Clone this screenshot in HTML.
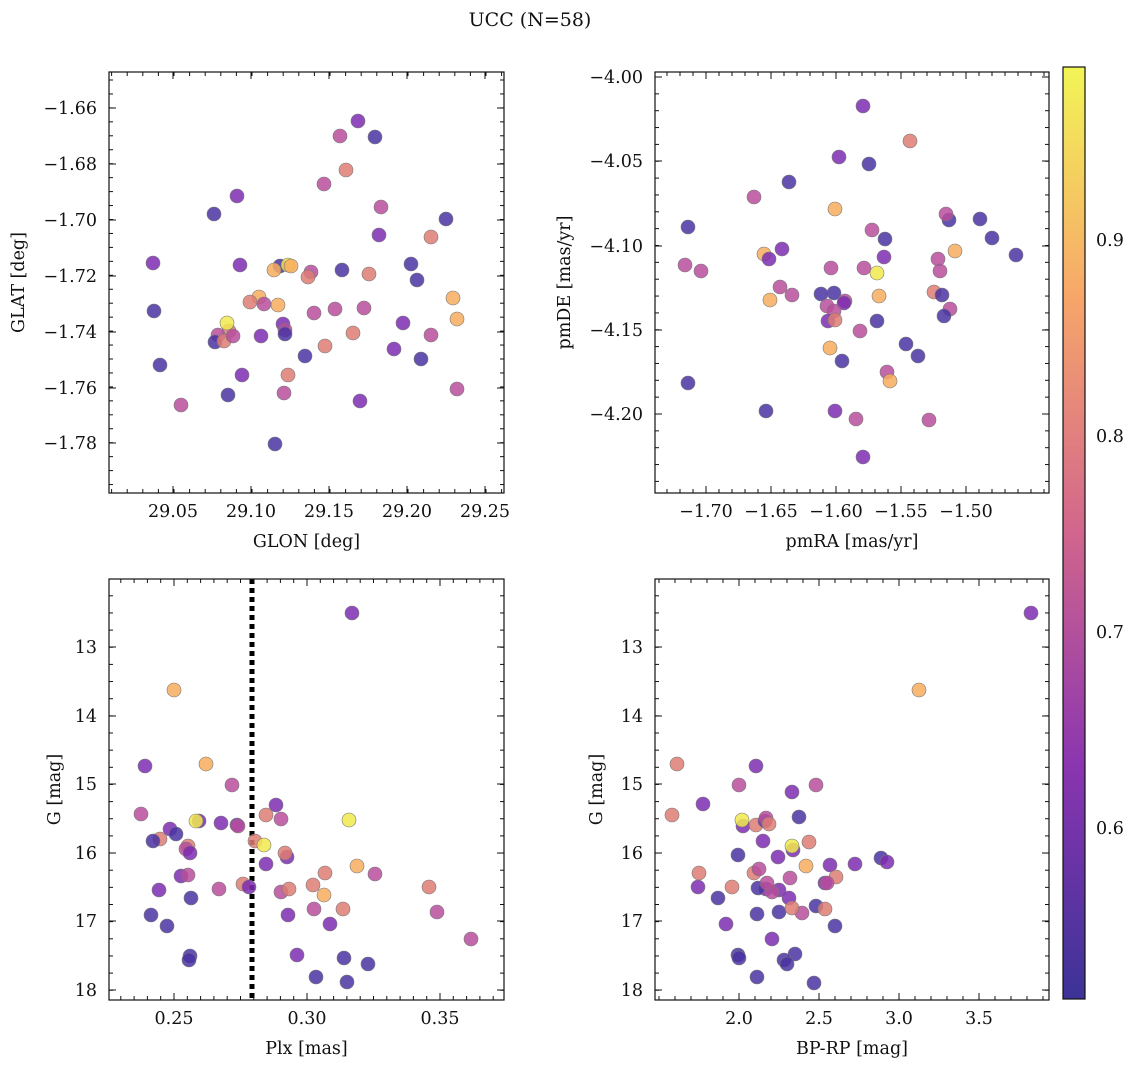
<!DOCTYPE html>
<html><head><meta charset="utf-8"><style>
body{margin:0;background:#fff;}
svg text{font-family:"DejaVu Serif","Liberation Serif",serif;font-size:17.5px;fill:#111;}
</style></head><body>
<svg id="s" width="1136" height="1067" xmlns="http://www.w3.org/2000/svg">
<defs><linearGradient id="cb" x1="0" y1="1" x2="0" y2="0">
<stop offset="0" stop-color="#3c3397"/><stop offset="0.25" stop-color="#8a35b0"/>
<stop offset="0.5" stop-color="#d1658d"/><stop offset="0.75" stop-color="#f7a56a"/>
<stop offset="1" stop-color="#f2f556"/></linearGradient></defs>
<text x="530" y="26" text-anchor="middle" style="font-size:19px">UCC (N=58)</text>
<line x1="252" y1="579" x2="252" y2="1000" stroke="#000" stroke-width="5" stroke-dasharray="5,4"/>
<g id="pts"></g><g id="ax"></g>
<rect x="1063" y="67" width="22" height="932" fill="url(#cb)" stroke="#111" stroke-width="1.2"/>
</svg>
<script>
const C={b:"#4a33a2",p:"#7c2cb0",m:"#b74d9c",s:"#de7d74",o:"#f8ad5e",y:"#f1e94e"};
const P={
tl:[[358,121,'p'],[340,136,'m'],[375,137,'b'],[346,170,'s'],[324,184,'m'],[237,196,'p'],[214,214,'b'],[381,207,'m'],[446,219,'b'],[379,235,'p'],[431,237,'s'],[153,263,'p'],[240,265,'p'],[280,266,'b'],[288,265,'y'],[291,266,'o'],[274,270,'o'],[311,272,'m'],[342,270,'b'],[369,274,'s'],[411,264,'b'],[417,280,'b'],[453,298,'o'],[278,305,'o'],[259,297,'o'],[250,302,'s'],[264,304,'m'],[335,309,'m'],[364,308,'m'],[308,277,'s'],[154,311,'b'],[229,331,'s'],[218,335,'m'],[215,342,'b'],[224,341,'s'],[233,336,'m'],[227,323,'y'],[261,336,'p'],[283,324,'p'],[285,330,'m'],[285,334,'b'],[314,313,'m'],[403,323,'p'],[457,319,'o'],[431,335,'m'],[353,333,'s'],[325,346,'s'],[305,356,'b'],[160,365,'b'],[394,349,'p'],[421,359,'b'],[242,375,'p'],[288,375,'s'],[360,401,'p'],[457,389,'m'],[284,393,'m'],[181,405,'m'],[228,395,'b'],[275,444,'b']],
tr:[[863,106,'p'],[910,141,'s'],[839,157,'p'],[869,164,'b'],[789,182,'b'],[754,197,'m'],[835,209,'o'],[949,220,'b'],[946,214,'m'],[688,227,'b'],[980,219,'b'],[872,230,'m'],[992,238,'b'],[885,239,'b'],[764,254,'o'],[955,251,'o'],[782,249,'p'],[769,259,'p'],[1016,255,'b'],[685,265,'m'],[701,271,'m'],[864,268,'m'],[884,257,'p'],[877,273,'y'],[938,259,'m'],[940,271,'m'],[831,268,'m'],[780,287,'m'],[792,295,'m'],[770,300,'o'],[834,293,'b'],[821,294,'b'],[879,296,'o'],[934,292,'s'],[942,295,'b'],[845,301,'m'],[827,306,'m'],[844,303,'p'],[950,309,'m'],[834,311,'m'],[828,321,'p'],[944,316,'b'],[877,321,'b'],[835,320,'s'],[860,331,'m'],[906,344,'b'],[918,356,'b'],[830,348,'o'],[842,361,'b'],[887,372,'m'],[890,381,'o'],[688,383,'b'],[766,411,'b'],[835,411,'p'],[856,419,'m'],[929,420,'m'],[863,457,'p']],
bl:[[352,613,'p'],[174,690,'o'],[206,764,'o'],[145,766,'p'],[232,785,'m'],[141,814,'m'],[199,821,'p'],[160,839,'s'],[188,846,'s'],[276,805,'p'],[170,829,'p'],[176,834,'b'],[153,841,'b'],[266,815,'s'],[281,819,'m'],[221,823,'p'],[237,825,'p'],[238,826,'m'],[255,841,'s'],[186,849,'m'],[190,853,'p'],[287,857,'p'],[285,853,'s'],[266,864,'p'],[357,866,'o'],[325,873,'s'],[313,885,'s'],[181,876,'p'],[188,875,'m'],[375,874,'m'],[159,890,'p'],[243,884,'s'],[219,889,'m'],[249,887,'p'],[281,892,'m'],[289,889,'s'],[324,895,'o'],[191,898,'b'],[429,887,'s'],[151,915,'b'],[167,926,'b'],[288,915,'p'],[314,909,'m'],[343,909,'s'],[330,924,'p'],[437,912,'m'],[471,939,'m'],[297,955,'p'],[190,956,'b'],[189,960,'b'],[344,958,'b'],[368,964,'b'],[316,977,'b'],[347,982,'b'],[349,820,'y'],[264,845,'y'],[196,821,'y']],
br:[[1031,613,'p'],[919,690,'o'],[677,764,'s'],[672,815,'s'],[703,804,'p'],[756,766,'p'],[739,785,'m'],[816,785,'m'],[792,792,'p'],[799,817,'b'],[743,826,'p'],[756,825,'s'],[765,821,'p'],[766,818,'m'],[769,824,'s'],[763,841,'p'],[738,855,'b'],[809,842,'s'],[793,850,'p'],[778,857,'p'],[806,866,'o'],[830,865,'p'],[855,864,'p'],[881,858,'b'],[887,862,'p'],[699,873,'s'],[754,873,'s'],[759,869,'m'],[790,878,'m'],[836,877,'s'],[698,887,'p'],[732,887,'s'],[766,889,'p'],[779,890,'p'],[758,888,'b'],[772,892,'m'],[767,883,'m'],[825,883,'p'],[789,898,'p'],[802,913,'m'],[718,898,'b'],[757,914,'b'],[779,912,'b'],[792,908,'s'],[816,906,'b'],[825,909,'s'],[827,883,'m'],[835,926,'b'],[726,924,'p'],[772,939,'p'],[738,955,'b'],[739,958,'b'],[795,954,'b'],[784,960,'b'],[787,964,'b'],[757,977,'b'],[814,983,'b'],[742,820,'y'],[792,846,'y']]};
const NS="http://www.w3.org/2000/svg";
function el(p,t,a,txt){const e=document.createElementNS(NS,t);for(const k in a)e.setAttribute(k,a[k]);if(txt!==undefined)e.textContent=txt;p.appendChild(e);return e;}
const g=document.getElementById('pts');
for(const k in P)for(const [x,y,c] of P[k])el(g,'circle',{cx:x,cy:y,r:7,fill:C[c],'fill-opacity':0.85,stroke:'#777','stroke-width':0.6});
const ax=document.getElementById('ax');
function axis(L,T,R,B,xt,yt,xmin,ymin,xl,yl,ylx){
 el(ax,'rect',{x:L,y:T,width:R-L,height:B-T,fill:'none',stroke:'#111','stroke-width':1.2});
 const t=(x1,y1,x2,y2)=>el(ax,'line',{x1,y1,x2,y2,stroke:'#111','stroke-width':1});
 for(const [p,l] of xt){t(p,B,p,B-7);t(p,T,p,T+7);el(ax,'text',{x:p,y:B+24,'text-anchor':'middle'},l);}
 for(const [p,l] of yt){t(L,p,L+7,p);t(R,p,R-7,p);el(ax,'text',{x:L-12,y:p+6,'text-anchor':'end'},l);}
 for(const p of xmin){if(p>L&&p<R){t(p,B,p,B-4);t(p,T,p,T+4);}}
 for(const p of ymin){if(p>T&&p<B){t(L,p,L+4,p);t(R,p,R-4,p);}}
 el(ax,'text',{x:(L+R)/2,y:B+54,'text-anchor':'middle'},xl);
 el(ax,'text',{x:ylx,y:(T+B)/2,'text-anchor':'middle',transform:`rotate(-90 ${ylx} ${(T+B)/2})`},yl);
}
function rng(a,step,n){const r=[];for(let i=0;i<n;i++)r.push(a+i*step);return r;}
const m="\u2212";
axis(109,72,504,493,[[173,'29.05'],[251,'29.10'],[329,'29.15'],[407,'29.20'],[485,'29.25']],
 [[108,m+'1.66'],[164,m+'1.68'],[220,m+'1.70'],[276,m+'1.72'],[332,m+'1.74'],[388,m+'1.76'],[443,m+'1.78']],
 rng(111.6,15.6,26),rng(80,13.95,31),'GLON [deg]','GLAT [deg]',24);
axis(655,72,1049,493,[[706,m+'1.70'],[771,m+'1.65'],[836,m+'1.60'],[901,m+'1.55'],[966,m+'1.50']],
 [[77,m+'4.00'],[161,m+'4.05'],[246,m+'4.10'],[330,m+'4.15'],[414,m+'4.20']],
 rng(654,13,32),rng(77,16.85,26),'pmRA [mas/yr]','pmDE [mas/yr]',570);
axis(109,579,504,1000,[[174,'0.25'],[307,'0.30'],[440,'0.35']],
 [[647,'13'],[716,'14'],[784,'15'],[853,'16'],[921,'17'],[990,'18']],
 rng(120.8,13.3,30),rng(595.8,17.15,25),'Plx [mas]','G [mag]',60);
axis(655,579,1049,1000,[[739,'2.0'],[819,'2.5'],[899,'3.0'],[979,'3.5']],
 [[647,'13'],[716,'14'],[784,'15'],[853,'16'],[921,'17'],[990,'18']],
 rng(659,16,25),rng(595.8,17.15,25),'BP-RP [mag]','G [mag]',602);
for(const [p,l] of [[828,'0.6'],[632,'0.7'],[436,'0.8'],[240,'0.9']]){el(ax,'line',{x1:1085,y1:p,x2:1078,y2:p,stroke:'#111'});el(ax,'text',{x:1096,y:p+6},l);}
for(let p=985.6;p>67;p-=39.2)el(ax,'line',{x1:1085,y1:p,x2:1081,y2:p,stroke:'#111'});
</script>
</body></html>
